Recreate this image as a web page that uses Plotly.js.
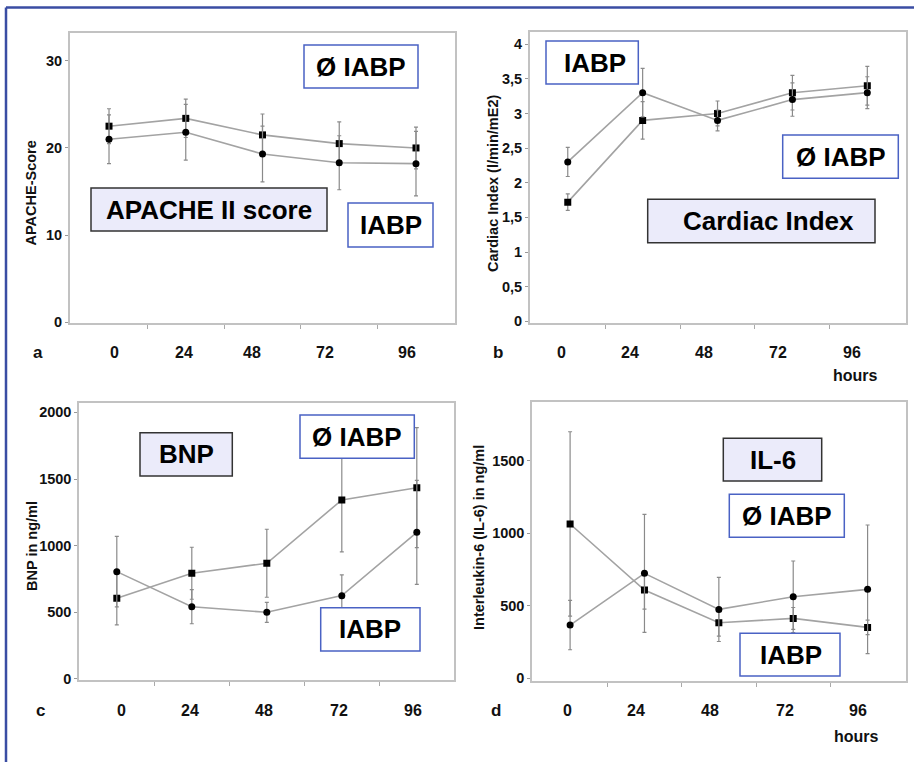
<!DOCTYPE html>
<html>
<head>
<meta charset="utf-8">
<script src="https://cdn.plot.ly/plotly-3.0.1.min.js"></script>
<style>html,body{margin:0;padding:0;background:#fff;}#chart{width:914px;height:762px;}</style>
</head>
<body>
<div id="chart"></div>
<script>
// ---------- data ----------
const hours = [0, 24, 48, 72, 96];
const hourLabels = ["0", "24", "48", "72", "96"];

// a: APACHE II score
const apacheNoIabp = [22.5, 23.4, 21.5, 20.5, 20.0];
const apacheNoIabpSD = [2.0, 2.2, 2.4, 2.5, 2.4];
const apacheIabp = [21.0, 21.8, 19.3, 18.3, 18.2];
const apacheIabpSD = [2.8, 3.2, 3.2, 3.1, 3.7];

// b: Cardiac Index
const ciNoIabp = [1.72, 2.9, 3.0, 3.3, 3.4];
const ciNoIabpSD = [0.12, 0.27, 0.18, 0.25, 0.28];
const ciIabp = [2.3, 3.3, 2.9, 3.2, 3.3];
const ciIabpSD = [0.21, 0.35, 0.15, 0.24, 0.23];

// c: BNP
const bnpNoIabp = [605, 793, 868, 1343, 1435];
const bnpNoIabpSD = [200, 195, 255, 390, 450];
const bnpIabp = [805, 542, 500, 625, 1100];
const bnpIabpSD = [265, 128, 75, 155, 390];

// d: IL-6
const il6NoIabp = [1063, 608, 383, 413, 351];
const il6NoIabpSD = [635, 131, 92, 75, 50];
const il6Iabp = [367, 723, 475, 562, 613];
const il6IabpSD = [170, 406, 221, 246, 443];

const ciTickVals = [0, 0.5, 1, 1.5, 2, 2.5, 3, 3.5, 4];
const ciTickText = ["0", "0,5", "1", "1,5", "2", "2,5", "3", "3,5", "4"];

// ---------- helpers ----------
const W = 914, H = 762;
const px = v => v / W;
const py = v => 1 - v / H;

const LINE = '#a3a3a3';
const ERR = '#8a8a8a';
const BLUE = '#4a62c4';
const SANS = 'Liberation Sans, Arial, sans-serif';

function series(x, y, sd, sym, xa, ya, name) {
  return {
    type: 'scatter', mode: 'lines+markers', name: name,
    x: x, y: y, xaxis: xa, yaxis: ya,
    line: {color: LINE, width: 1.6},
    marker: {symbol: sym, size: 7, color: '#000'},
    error_y: {type: 'data', array: sd, visible: true, color: ERR, thickness: 1.2, width: 2},
    hoverinfo: 'x+y'
  };
}

const data = [
  series(hours, apacheNoIabp, apacheNoIabpSD, 'square', 'x', 'y', 'Ø IABP'),
  series(hours, apacheIabp, apacheIabpSD, 'circle', 'x', 'y', 'IABP'),
  series(hours, ciNoIabp, ciNoIabpSD, 'square', 'x2', 'y2', 'Ø IABP'),
  series(hours, ciIabp, ciIabpSD, 'circle', 'x2', 'y2', 'IABP'),
  series(hours, bnpNoIabp, bnpNoIabpSD, 'square', 'x3', 'y3', 'Ø IABP'),
  series(hours, bnpIabp, bnpIabpSD, 'circle', 'x3', 'y3', 'IABP'),
  series(hours, il6NoIabp, il6NoIabpSD, 'square', 'x4', 'y4', 'Ø IABP'),
  series(hours, il6Iabp, il6IabpSD, 'circle', 'x4', 'y4', 'IABP')
];

const tickFont = {family: SANS, size: 14.5, color: '#111', weight: 'bold'};

function xAxis(domain, range, anchor) {
  return {
    domain: domain, range: range, anchor: anchor,
    tickvals: [12, 36, 60, 84], ticktext: ['', '', '', ''],
    ticks: 'outside', ticklen: 4, tickcolor: '#aaa', tickwidth: 1,
    showgrid: false, zeroline: false,
    showline: true, mirror: true, linecolor: '#c2c2c2', linewidth: 2,
    fixedrange: true
  };
}
function yAxis(domain, range, anchor, tickvals, ticktext) {
  const a = {
    domain: domain, range: range, anchor: anchor,
    tickvals: tickvals,
    ticks: 'outside', ticklen: 3, tickcolor: '#999', tickwidth: 1,
    tickfont: tickFont,
    showgrid: false, zeroline: false,
    showline: true, mirror: true, linecolor: '#c2c2c2', linewidth: 2,
    fixedrange: true
  };
  if (ticktext) a.ticktext = ticktext;
  return a;
}

const layout = {
  width: W, height: H,
  margin: {l: 0, r: 0, t: 0, b: 0},
  paper_bgcolor: '#ffffff', plot_bgcolor: '#ffffff',
  showlegend: false,
  xaxis: xAxis([px(70), px(455)], [-12.2, 108.2], 'y'),
  yaxis: yAxis([py(323), py(33)], [-0.1, 33.2], 'x', [0, 10, 20, 30]),
  xaxis2: xAxis([px(530), px(906)], [-12.1, 108.4], 'y2'),
  yaxis2: yAxis([py(322.7), py(31.7)], [-0.02, 4.18], 'x2', ciTickVals, ciTickText),
  xaxis3: xAxis([px(79.3), px(454)], [-12.0, 107.9], 'y3'),
  yaxis3: yAxis([py(680), py(403.3)], [-8, 2068], 'x3', [0, 500, 1000, 1500, 2000]),
  xaxis4: xAxis([px(532.3), px(905.7)], [-12.2, 108.3], 'y4'),
  yaxis4: yAxis([py(680.7), py(401.7)], [-16, 1905], 'x4', [0, 500, 1000, 1500]),
  shapes: [],
  annotations: []
};

// outer frame (top and left)
layout.shapes.push({type: 'line', xref: 'paper', yref: 'paper', x0: px(6), x1: 1, y0: py(7.5), y1: py(7.5), line: {color: '#3a4da3', width: 2.5}});
layout.shapes.push({type: 'line', xref: 'paper', yref: 'paper', x0: px(6), x1: px(6), y0: py(7.5), y1: 0, line: {color: '#3a4da3', width: 2.5}});

// boxed labels
const boxFont = {family: SANS, size: 26, color: '#000', weight: 'bold'};
function box(x0, x1, y0, y1, text, tx, kind) {
  const fill = kind === 'title' ? '#ebebfa' : '#ffffff';
  const lc = kind === 'title' ? '#333333' : BLUE;
  layout.shapes.push({type: 'rect', xref: 'paper', yref: 'paper',
    x0: px(x0), x1: px(x1), y0: py(y1), y1: py(y0),
    fillcolor: fill, line: {color: lc, width: 1.5}, layer: 'above'});
  layout.annotations.push({xref: 'paper', yref: 'paper', x: px(tx), y: py((y0 + y1) / 2),
    text: text, showarrow: false, xanchor: 'center', yanchor: 'middle', font: boxFont});
}
box(304, 418, 45, 88, 'Ø IABP', 361, 'group');
box(91, 327, 188, 231, 'APACHE II score', 209, 'title');
box(348, 433, 203, 247, 'IABP', 390.5, 'group');

box(546, 638.3, 41, 84, 'IABP', 595, 'group');
box(782.7, 898.3, 135, 178.3, 'Ø IABP', 840.5, 'group');
box(647.7, 875, 199.3, 242.7, 'Cardiac Index', 768, 'title');

box(140, 232.3, 432.7, 476, 'BNP', 186, 'title');
box(300, 414.3, 415, 458.3, 'Ø IABP', 357, 'group');
box(320.7, 420, 607.7, 651, 'IABP', 370.3, 'group');

box(723.3, 821.7, 438.3, 481, 'IL-6', 772.5, 'title');
box(729.3, 844.3, 494.3, 537.3, 'Ø IABP', 786.8, 'group');
box(740, 840, 633.3, 676, 'IABP', 790.5, 'group');

// x tick labels (drawn under each panel)
const xlabFont = {family: SANS, size: 16, color: '#111', weight: 'bold'};
function xLabels(xs, y) {
  xs.forEach((x, i) => layout.annotations.push({xref: 'paper', yref: 'paper', x: px(x), y: py(y),
    text: hourLabels[i], showarrow: false, xanchor: 'center', yanchor: 'middle', font: xlabFont}));
}
xLabels([115, 184, 252, 325, 407], 352);
xLabels([561.7, 630, 704.3, 778.3, 852.3], 352);
xLabels([121.7, 190, 264.3, 339.3, 412.7], 710);
xLabels([567.3, 636, 710, 785, 858.3], 710);

// hours labels
[[855, 376], [856.7, 736]].forEach(p => layout.annotations.push({xref: 'paper', yref: 'paper', x: px(p[0]), y: py(p[1]),
  text: 'hours', showarrow: false, xanchor: 'center', yanchor: 'middle', font: xlabFont}));

// panel letters
const letterFont = {family: SANS, size: 17, color: '#111', weight: 'bold'};
[['a', 38, 352], ['b', 497.7, 352], ['c', 40, 710], ['d', 495.7, 710]].forEach(p =>
  layout.annotations.push({xref: 'paper', yref: 'paper', x: px(p[1]), y: py(p[2]),
    text: p[0], showarrow: false, xanchor: 'center', yanchor: 'middle', font: letterFont}));

// y-axis titles
const ytFont = {family: SANS, size: 14.5, color: '#111', weight: 'bold'};
[['APACHE-Score', 30.5, 193], ['Cardiac Index (l/min/mE2)', 493, 183],
 ['BNP in ng/ml', 32, 546], ['Interleukin-6 (IL-6) in ng/ml', 479, 538]].forEach(p =>
  layout.annotations.push({xref: 'paper', yref: 'paper', x: px(p[1]), y: py(p[2]),
    text: p[0], textangle: -90, showarrow: false, xanchor: 'center', yanchor: 'middle', font: ytFont}));

Plotly.newPlot('chart', data, layout, {displayModeBar: false, staticPlot: true});
</script>
</body>
</html>
